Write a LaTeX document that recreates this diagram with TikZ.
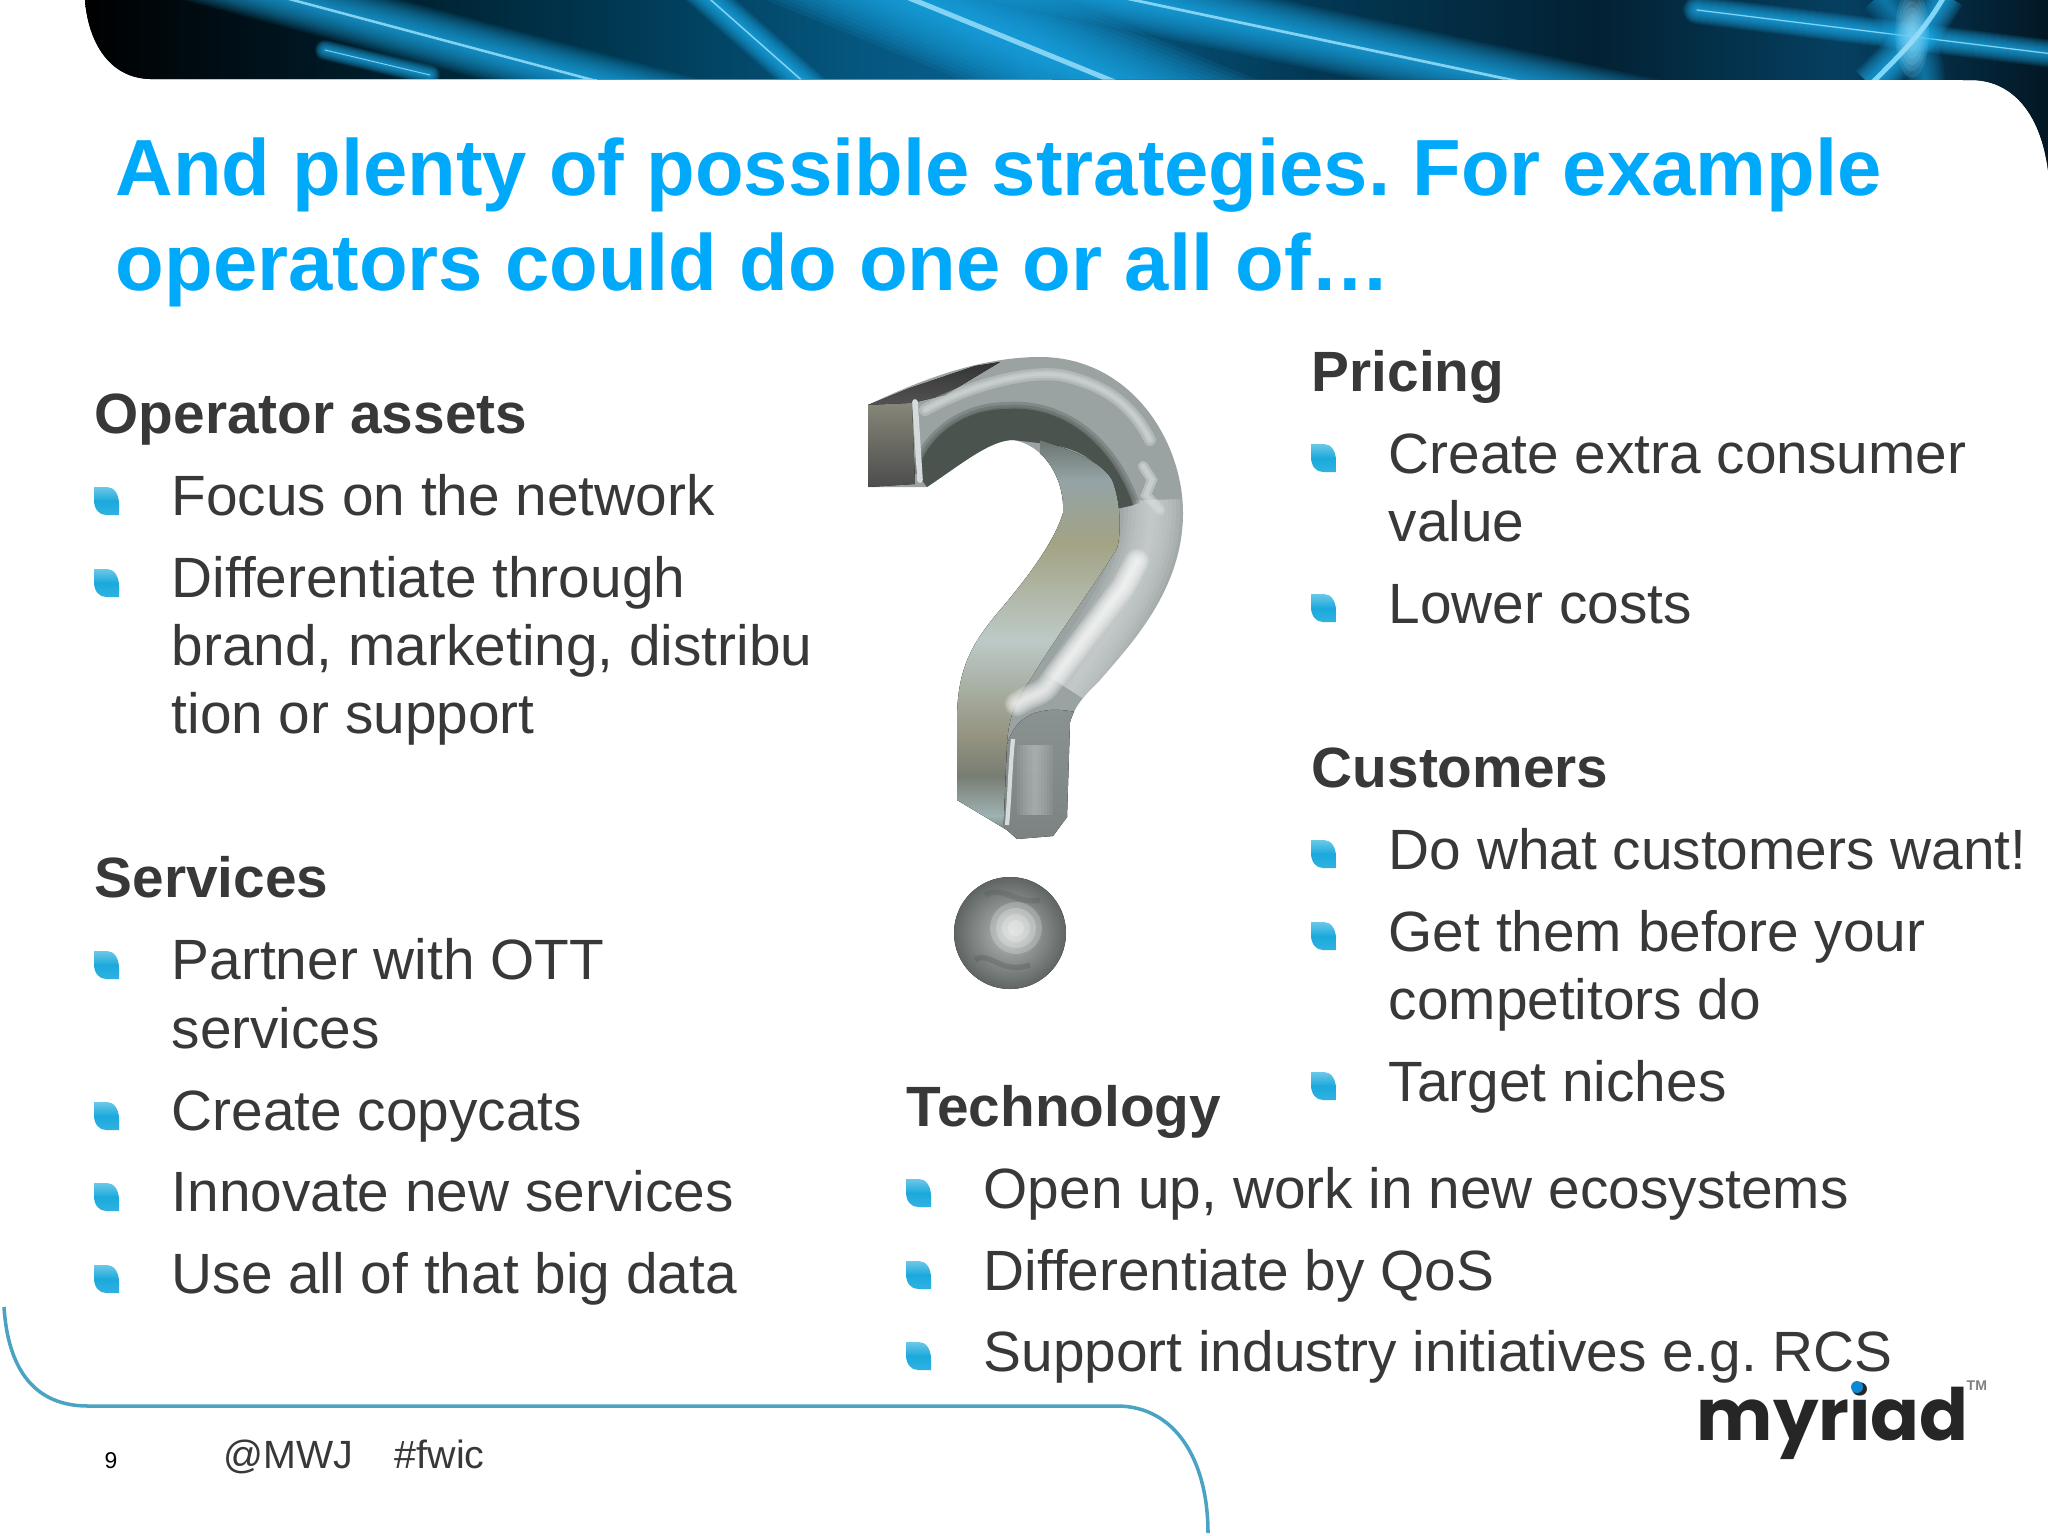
\documentclass[tikz,border=0pt]{standalone}
\usepackage{fontspec}
\setmainfont{Liberation Sans}
\newfontfamily\logofont{Poppins}
\frenchspacing
\definecolor{titleblue}{HTML}{00A9FA}
\definecolor{bodygrey}{HTML}{383838}
\definecolor{footline}{HTML}{4BA3C3}
\definecolor{bulletlight}{HTML}{6CC8E8}
\definecolor{bulletmid}{HTML}{1BA9DC}
\definecolor{bulletlow}{HTML}{30B2E2}
\definecolor{streak}{HTML}{1FB4F5}
\definecolor{steelbase}{HTML}{9AA3A2}
\definecolor{steeldark}{HTML}{4A534E}
\definecolor{steellight}{HTML}{D5DBDA}
\pgfdeclarehorizontalshading{bannershade}{100bp}{rgb(0bp)=(0,0,0); rgb(27bp)=(0,0,0); rgb(32bp)=(0,.08,.12); rgb(40bp)=(0,.22,.32); rgb(46bp)=(.02,.34,.50); rgb(50bp)=(.03,.38,.56); rgb(57bp)=(.01,.22,.33); rgb(64bp)=(.01,.13,.20); rgb(70bp)=(.02,.25,.38); rgb(75bp)=(.01,.09,.14); rgb(100bp)=(.01,.09,.14)}
\pgfdeclareverticalshading{stemshade}{100bp}{rgb(0bp)=(.38,.41,.39); rgb(25bp)=(.38,.41,.39); rgb(28bp)=(.62,.70,.70); rgb(33bp)=(.47,.49,.45); rgb(38bp)=(.58,.58,.50); rgb(50bp)=(.74,.79,.78); rgb(62bp)=(.64,.64,.52); rgb(70bp)=(.58,.64,.65); rgb(75bp)=(.42,.46,.44); rgb(100bp)=(.42,.46,.44)}
\begin{document}
\begin{tikzpicture}[x=0.01cm,y=-0.01cm]
    \tikzstyle{title}=[anchor=base west, inner sep=0, font=\fontsize{22.65}{26}\selectfont\bfseries, text=titleblue]
    \tikzstyle{head}=[anchor=base west, inner sep=0, font=\fontsize{16.15}{20}\selectfont\bfseries, text=bodygrey]
    \tikzstyle{item}=[anchor=base west, inner sep=0, font=\fontsize{16.15}{20}\selectfont, text=bodygrey]
    \tikzstyle{foot}=[anchor=base west, inner sep=0, font=\fontsize{11.2}{13}\selectfont, text=bodygrey]
    \tikzstyle{bulletmark}=[top color=bulletlight, bottom color=bulletlow, middle color=bulletmid]
    \useasboundingbox (0,0) rectangle (2048,1536);

    % banner
    \begin{scope}
        \clip (85,0) .. controls (88,40) and (108,78) .. (150,79) -- (1971,80) .. controls (2010,80) and (2040,110) .. (2048,170) -- (2048,0) -- cycle;
        \fill[shading=bannershade] (0,0) rectangle (2048,170);
        \foreach \xa/\ya/\xb/\yb/\glow in {718/-80/1306/160/1, 921/-45/1677/115/.55, 124/-45/724/115/.5, 660/-45/841/115/.3, 1697/10/2150/66/.25, 325/50/430/75/.18} {
            \foreach \wd in {8,16,...,112} {
                \draw[streak, line width=\wd*\glow*0.2845pt, opacity=0.09, line cap=round] (\xa,\ya) -- (\xb,\yb);
            }
            \draw[cyan!40!white, line width=5*\glow*0.2845pt, opacity=.85, line cap=round] (\xa,\ya) -- (\xb,\yb);
        }
        \foreach \wd in {4,8,...,40} {
            \draw[streak, line width=\wd*0.2845pt, opacity=0.12] (1945,-5) .. controls (1925,30) and (1905,50) .. (1870,85);
            \draw[streak, line width=\wd*0.2845pt, opacity=0.07] (1880,-5) .. controls (1910,30) and (1925,50) .. (1925,85);
        }
        \draw[cyan!50!white, line width=1.4pt] (1945,-5) .. controls (1925,30) and (1905,50) .. (1870,85);
        \foreach \wd in {4,8,...,28} {
            \fill[cyan!35!white, opacity=.14] (1912,33) ellipse [x radius=\wd*.6, y radius=\wd*1.6];
        }
    \end{scope}

    % question mark
    \begin{scope}
        \clip (868,405) -- (868,487) -- (927,487) .. controls (960,465) and (990,440) .. (1013,440) .. controls (1045,445) and (1065,480) .. (1063,513) .. controls (1055,540) and (1030,575) .. (1000,610) .. controls (975,640) and (957,665) .. (957,720) -- (957,800) -- (1007,830) -- (1017,839) -- (1053,836) -- (1067,817) -- (1070,722) .. controls (1075,705) and (1085,695) .. (1100,680) .. controls (1130,645) and (1183,590) .. (1183,513) .. controls (1183,440) and (1130,357) .. (1040,357) .. controls (980,357) and (920,380) .. (868,405) -- cycle;
        \fill[steelbase] (850,340) rectangle (1200,850);
        \foreach \wd in {8,16,...,64} {
            \draw[steellight, line width=\wd*0.2845pt, opacity=.14] (1152,500) .. controls (1155,570) and (1115,620) .. (1070,690);
        }
        \foreach \wd in {14,8,3} {
            \draw[steeldark, line width=\wd*0.2845pt, opacity=.3] (917,474) .. controls (925,440) and (960,409) .. (1007,409) .. controls (1060,405) and (1110,440) .. (1133,505);
        }
        \fill[steeldark] (917,474) .. controls (925,440) and (960,409) .. (1007,409) .. controls (1060,405) and (1110,440) .. (1133,505) -- (1117,509) .. controls (1110,470) and (1090,450) .. (1047,444) -- (1013,440) .. controls (990,440) and (960,465) .. (927,487) -- cycle;
        \fill[shading=stemshade] (1040,440) .. controls (1070,450) and (1100,460) .. (1112,480) .. controls (1120,500) and (1122,530) .. (1117,548) .. controls (1095,585) and (1060,630) .. (1030,680) .. controls (1015,700) and (1008,720) .. (1007,745) -- (1003,840) -- (940,800) -- (940,640) -- (1040,540) -- cycle;
        \fill[top color=steelbase!90!black, bottom color=steelbase!80!black] (1007,745) .. controls (1015,715) and (1040,705) .. (1075,712) -- (1075,840) -- (1003,840) -- cycle;
        \foreach \wd in {6,12,...,36} {
            \draw[steelbase!60!white, line width=\wd*0.2845pt, opacity=.12] (1035,745) -- (1035,815);
        }
        \fill[top color=black!60!gray, bottom color=black!35!gray] (868,405) -- (910,388) -- (975,366) -- (1000,362) -- (945,395) -- (912,403) -- cycle;
        \fill[top color=gray!95!yellow, bottom color=black!40!gray] (868,405) -- (912,403) -- (915,484) -- (868,487) -- cycle;
        \foreach \wd in {4,8,...,24} {
            \draw[white, line width=\wd*0.2845pt, opacity=.2, line cap=round] (1017,704) .. controls (1030,695) and (1040,695) .. (1047,687) -- (1123,587) -- (1137,561);
        }
        \draw[steellight, line width=1.6pt, line cap=round] (915,402) -- (920,480);
        \foreach \wd in {12,7,3} {
            \draw[steellight, line width=\wd*0.2845pt, opacity=.4, line cap=round] (925,410) .. controls (960,390) and (1020,370) .. (1060,375) .. controls (1110,385) and (1135,410) .. (1150,440);
        }
        \draw[steellight, line width=1.2pt] (1013,739) .. controls (1010,770) and (1010,790) .. (1007,825);
        \foreach \wd in {10,5} {
            \draw[steellight, line width=\wd*0.2845pt, opacity=.5, line cap=round] (1143,466) -- (1152,480) -- (1146,495) -- (1160,510);
        }
    \end{scope}
    \node[inner sep=0, minimum size=0] (dot) at (1010,933) {};
    \fill[inner color=steelbase!70!white, outer color=steeldark!60!gray] (dot) ellipse [x radius=56, y radius=56];
    \foreach \wd in {26,20,14,8} {
        \fill[white, opacity=.22] (1016,928) ellipse [x radius=\wd, y radius=\wd];
    }
    \draw[steeldark, opacity=.3, line width=1.5pt] (975,960) .. controls (990,950) and (1000,975) .. (1030,965);
    \draw[steeldark, opacity=.25, line width=1.5pt] (985,895) .. controls (1005,885) and (1015,905) .. (1040,900);

    \node[title] (title-top) at (115,195) {And plenty of possible strategies. For example};
    \node[title] (title-bottom) at (115,290) {operators could do one or all of…};

    \node[head] (assets) at (94,433) {Operator assets};
    \node[item] (assets-a) at (171,515) {Focus on the network};
    \node[item] (assets-b) at (171,597) {Differentiate through};
    \node[item] (assets-c) at (171,665) {brand, marketing, distribu};
    \node[item] (assets-d) at (171,733) {tion or support};

    \node[head] (services) at (94,897) {Services};
    \node[item] (services-a) at (171,979) {Partner with OTT};
    \node[item] (services-b) at (171,1048) {services};
    \node[item] (services-c) at (171,1130) {Create copycats};
    \node[item] (services-d) at (171,1211) {Innovate new services};
    \node[item] (services-e) at (171,1293) {Use all of that big data};

    \node[head] (pricing) at (1311,391) {Pricing};
    \node[item] (pricing-a) at (1388,473) {Create extra consumer};
    \node[item] (pricing-b) at (1388,541) {value};
    \node[item] (pricing-c) at (1388,623) {Lower costs};

    \node[head] (customers) at (1311,787) {Customers};
    \node[item] (customers-a) at (1388,869) {Do what customers want!};
    \node[item] (customers-b) at (1388,951) {Get them before your};
    \node[item] (customers-c) at (1388,1019) {competitors do};
    \node[item] (customers-d) at (1388,1101) {Target niches};

    \node[head] (technology) at (906,1126) {Technology};
    \node[item] (technology-a) at (983,1208) {Open up, work in new ecosystems};
    \node[item] (technology-b) at (983,1290) {Differentiate by QoS};
    \node[item] (technology-c) at (983,1371) {Support industry initiatives e.g. RCS};

    \foreach \bx/\by in {94/516, 94/598, 94/980, 94/1131, 94/1212, 94/1294, 1311/473, 1311/623, 1311/869, 1311/951, 1311/1101, 906/1208, 906/1290, 906/1371} {
        \path[bulletmark, shift={(\bx,\by)}] (0,-29) -- (13,-29) .. controls (20,-29) and (25,-22) .. (25,-12) -- (25,-1) -- (12,-1) .. controls (5,-1) and (0,-7) .. (0,-16) -- cycle;
    }

    % footer
    \draw[footline, line width=1pt] (4,1307) .. controls (8,1370) and (35,1406) .. (88,1406) -- (1117,1406) .. controls (1175,1406) and (1208,1460) .. (1208,1533);
    \node[anchor=base, inner sep=0, font=\fontsize{6.5}{8}\selectfont, text=black] (pagenum) at (111,1468) {9};
    \node[foot] (tags) at (223,1468) {@MWJ\hspace{1.05em}\#fwic};

    % logo
    \node[anchor=base west, inner sep=0, font=\fontsize{20.5}{24}\selectfont\logofont\bfseries, text=black!85] (logo) at (1696,1440) {myriad};
    \fill[cyan!70!blue] (1857,1387) ellipse [x radius=6, y radius=6];
    \node[anchor=base west, inner sep=0, font=\fontsize{4}{5}\selectfont\bfseries, text=gray] (logo-tm) at (1966,1390) {TM};
\end{tikzpicture}
\end{document}
